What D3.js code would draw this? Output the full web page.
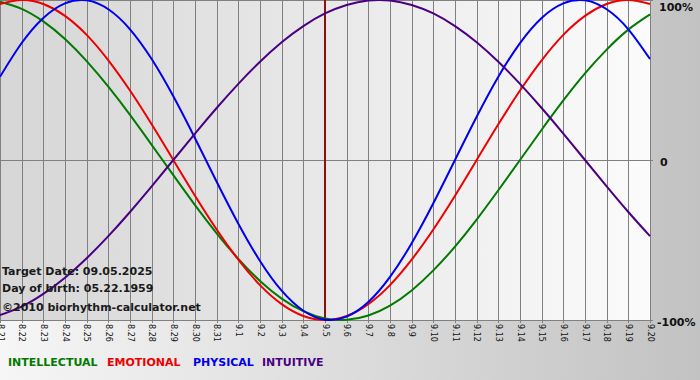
<!DOCTYPE html>
<html lang="en">
<head>
<meta charset="utf-8">
<title>biorhythm</title>
<script src="https://cdn.jsdelivr.net/npm/d3@7"></script>
<style>
  body { margin: 0; padding: 0; background: #fff; }
  svg { display: block; }
</style>
</head>
<body>
<script>
// day labels along the bottom (8.21 .. 9.20)
var days = ["8.21","8.22","8.23","8.24","8.25","8.26","8.27","8.28","8.29","8.30","8.31",
            "9.1","9.2","9.3","9.4","9.5","9.6","9.7","9.8","9.9","9.10",
            "9.11","9.12","9.13","9.14","9.15","9.16","9.17","9.18","9.19","9.20"];

// values, one per day (-1 .. 1)
var physical = [0.520, 0.731, 0.888, 0.979, 0.998, 0.942, 0.817, 0.631, 0.398, 0.136, -0.136,
                -0.398, -0.631, -0.817, -0.942, -0.998, -0.979, -0.888, -0.731, -0.520, -0.270,
                0.000, 0.270, 0.520, 0.731, 0.888, 0.979, 0.998, 0.942, 0.817, 0.631];
var emotional = [0.975, 1.000, 0.975, 0.901, 0.782, 0.623, 0.434, 0.223, 0.000, -0.223, -0.434,
                 -0.623, -0.782, -0.901, -0.975, -1.000, -0.975, -0.901, -0.782, -0.623, -0.434,
                 -0.223, 0.000, 0.223, 0.434, 0.623, 0.782, 0.901, 0.975, 1.000, 0.975];
var intellectual = [0.990, 0.945, 0.866, 0.756, 0.618, 0.458, 0.282, 0.095, -0.095, -0.282, -0.458,
                    -0.618, -0.756, -0.866, -0.945, -0.990, -0.999, -0.972, -0.910, -0.815, -0.690,
                    -0.541, -0.372, -0.189, 0.000, 0.189, 0.372, 0.541, 0.690, 0.815, 0.910];
var intuitive = [-0.969, -0.916, -0.837, -0.736, -0.614, -0.476, -0.325, -0.165, 0.000, 0.165, 0.325,
                 0.476, 0.614, 0.736, 0.837, 0.916, 0.969, 0.997, 0.997, 0.969, 0.916,
                 0.837, 0.736, 0.614, 0.476, 0.325, 0.165, 0.000, -0.165, -0.325, -0.476];

var targetIndex = 15; // 9.5
var yTicks = [1, 0, -1];
var yTickLabels = ["100%", "0", "-100%"];

var series = [
  {name: "INTELLECTUAL", values: intellectual, color: "#007a00"},
  {name: "EMOTIONAL", values: emotional, color: "#ee0000"},
  {name: "PHYSICAL", values: physical, color: "#0000ee"},
  {name: "INTUITIVE", values: intuitive, color: "#4b0082"}
];

var w = 700, h = 380;
var plotW = 650, plotH = 320;

var svg = d3.select("body").append("svg")
  .attr("width", w)
  .attr("height", h);

var defs = svg.append("defs");
var bg = defs.append("linearGradient").attr("id", "bg").attr("x1", "0").attr("x2", "1").attr("y1", "0").attr("y2", "0");
bg.append("stop").attr("offset", "0%").attr("stop-color", "#f6f6f6");
bg.append("stop").attr("offset", "100%").attr("stop-color", "#c2c2c2");
var pg = defs.append("linearGradient").attr("id", "pg").attr("x1", "0").attr("x2", "1").attr("y1", "0").attr("y2", "0");
pg.append("stop").attr("offset", "0%").attr("stop-color", "#d6d6d6");
pg.append("stop").attr("offset", "100%").attr("stop-color", "#fbfbfb");

svg.append("rect").attr("width", w).attr("height", h).attr("fill", "url(#bg)");
svg.append("rect").attr("width", plotW).attr("height", plotH).attr("fill", "url(#pg)");

var xScale = d3.scaleLinear().domain([0, days.length - 1]).range([0, plotW]);
var yScale = d3.scaleLinear().domain([-1, 1]).range([plotH, 0]);

// vertical grid lines, one per day
svg.selectAll("line.vgrid")
  .data(days)
  .enter()
  .append("line")
  .attr("class", "vgrid")
  .attr("x1", function(d, i) { return Math.round(xScale(i)) + 0.5; })
  .attr("x2", function(d, i) { return Math.round(xScale(i)) + 0.5; })
  .attr("y1", 0)
  .attr("y2", plotH + 3)
  .attr("stroke", "#808080")
  .attr("stroke-width", 1);

// horizontal lines (top, zero, bottom)
svg.selectAll("line.hgrid")
  .data(yTicks)
  .enter()
  .append("line")
  .attr("class", "hgrid")
  .attr("x1", 0)
  .attr("x2", plotW + 3)
  .attr("y1", function(d) { return Math.round(yScale(d)) + 0.5; })
  .attr("y2", function(d) { return Math.round(yScale(d)) + 0.5; })
  .attr("stroke", "#808080")
  .attr("stroke-width", 1);

// target date marker
svg.append("line")
  .attr("x1", xScale(targetIndex))
  .attr("x2", xScale(targetIndex))
  .attr("y1", 0)
  .attr("y2", plotH + 1)
  .attr("stroke", "#8b1010")
  .attr("stroke-width", 2);

// the curves
var line = d3.line()
  .x(function(d, i) { return xScale(i); })
  .y(function(d) { return yScale(d); })
  .curve(d3.curveNatural);

svg.selectAll("path.curve")
  .data(series)
  .enter()
  .append("path")
  .attr("class", "curve")
  .attr("d", function(s) { return line(s.values); })
  .attr("fill", "none")
  .attr("stroke", function(s) { return s.color; })
  .attr("stroke-width", 2);

// y labels on the right
var yLabY = [11, 166, 326];
svg.selectAll("text.ylab")
  .data(yTicks)
  .enter()
  .append("text")
  .attr("class", "ylab")
  .attr("x", function(d, i) { return i == 2 ? 657 : (i == 0 ? 659 : 660); })
  .attr("y", function(d, i) { return yLabY[i]; })
  .text(function(d, i) { return yTickLabels[i]; })
  .attr("font-family", "DejaVu Sans, Verdana, sans-serif")
  .attr("font-weight", "bold")
  .attr("font-size", "11px")
  .attr("fill", "#111");

// day labels, rotated
svg.selectAll("text.xlab")
  .data(days)
  .enter()
  .append("text")
  .attr("class", "xlab")
  .attr("transform", function(d, i) { return "translate(" + (xScale(i) + 0.5) + "," + (plotH + 4) + ") rotate(90)"; })
  .attr("dy", "0.35em")
  .text(function(d) { return d; })
  .attr("font-family", "DejaVu Sans, Verdana, sans-serif")
  .attr("font-size", "8px")
  .attr("fill", "#111");

// info text bottom left
var info = ["Target Date: 09.05.2025", "Day of birth: 05.22.1959", "\u00a92010 biorhythm-calculator.net"];
var infoY = [275, 292, 311];
svg.selectAll("text.info")
  .data(info)
  .enter()
  .append("text")
  .attr("class", "info")
  .attr("x", 2)
  .attr("y", function(d, i) { return infoY[i]; })
  .text(function(d) { return d; })
  .attr("font-family", "DejaVu Sans, Verdana, sans-serif")
  .attr("font-weight", "bold")
  .attr("font-size", "11px")
  .attr("fill", "#1a1a1a");

// legend
var legendX = [8, 107, 193, 262];
svg.selectAll("text.legend")
  .data(series)
  .enter()
  .append("text")
  .attr("class", "legend")
  .attr("x", function(s, i) { return legendX[i]; })
  .attr("y", 366)
  .text(function(s) { return s.name; })
  .attr("font-family", "DejaVu Sans, Verdana, sans-serif")
  .attr("font-weight", "bold")
  .attr("font-size", "11px")
  .attr("fill", function(s) { return s.color; });
</script>
</body>
</html>
